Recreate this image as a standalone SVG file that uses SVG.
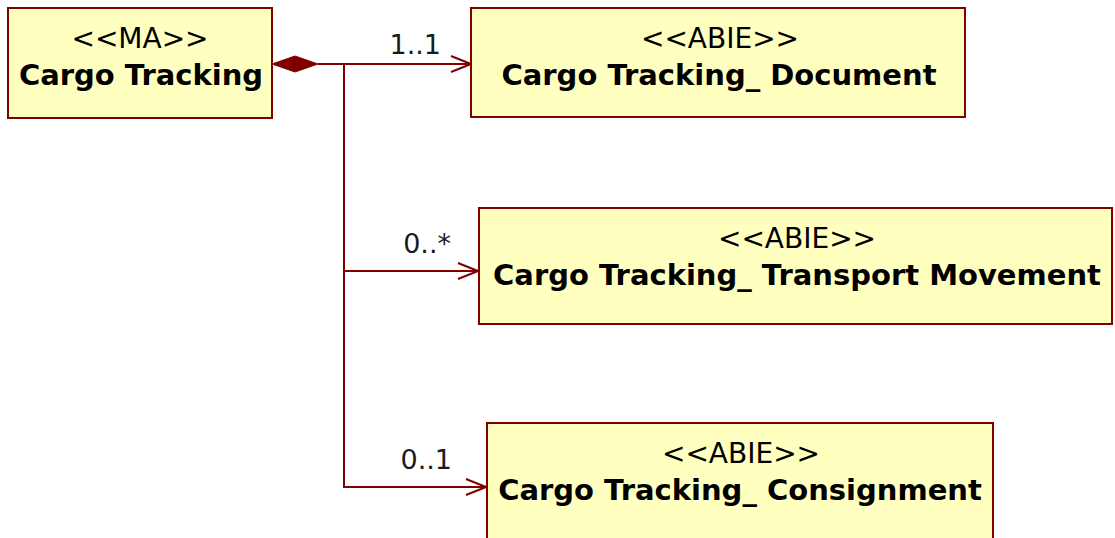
<svg xmlns="http://www.w3.org/2000/svg" width="1115" height="538" viewBox="0 0 1115 538">
  <style>
    .box { fill: #ffffc0; stroke: #800000; stroke-width: 2; }
    .st { font-family: "DejaVu Sans", sans-serif; font-size: 28px; fill: #000; text-anchor: middle; }
    .nm { font-family: "DejaVu Sans", sans-serif; font-weight: bold; font-size: 29px; fill: #000; text-anchor: middle; }
    .lbl { font-family: "DejaVu Sans", sans-serif; font-size: 27px; fill: #1a1a1a; text-anchor: end; }
    .edge { fill: none; stroke: #800000; stroke-width: 2; }
  </style>
  <defs>
    <marker id="open" viewBox="0 0 22 18" refX="21" refY="9" markerWidth="22" markerHeight="18" markerUnits="userSpaceOnUse" orient="auto">
      <path d="M1,1 L21,9 L1,17" fill="none" stroke="#800000" stroke-width="2"/>
    </marker>
  </defs>
  <rect width="1115" height="538" fill="#ffffff"/>

  <g id="connectors">
    <polygon points="272,64 295,56 318,64 295,72" fill="#800000" stroke="#800000" stroke-width="1"/>
    <path class="edge" d="M318,64 H471" marker-end="url(#open)"/>
    <path class="edge" d="M344,64 V271 H478" marker-end="url(#open)"/>
    <path class="edge" d="M344,271 V487 H486" marker-end="url(#open)"/>
    <text class="lbl" x="441" y="54">1..1</text>
    <text class="lbl" x="451" y="253">0..*</text>
    <text class="lbl" x="452" y="469">0..1</text>
  </g>

  <g id="node-ma">
    <rect class="box" x="8" y="8" width="264" height="110"/>
    <text class="st" x="140" y="48">&lt;&lt;MA&gt;&gt;</text>
    <text class="nm" x="141" y="85">Cargo Tracking</text>
  </g>

  <g id="node-document">
    <rect class="box" x="471" y="8" width="494" height="109"/>
    <text class="st" x="720" y="48">&lt;&lt;ABIE&gt;&gt;</text>
    <text class="nm" x="719" y="85">Cargo Tracking_ Document</text>
  </g>

  <g id="node-transport">
    <rect class="box" x="479" y="208" width="633" height="116"/>
    <text class="st" x="797" y="248">&lt;&lt;ABIE&gt;&gt;</text>
    <text class="nm" x="797" y="285">Cargo Tracking_ Transport Movement</text>
  </g>

  <g id="node-consignment">
    <rect class="box" x="487" y="423" width="506" height="130"/>
    <text class="st" x="741" y="463">&lt;&lt;ABIE&gt;&gt;</text>
    <text class="nm" x="740" y="500">Cargo Tracking_ Consignment</text>
  </g>
</svg>
